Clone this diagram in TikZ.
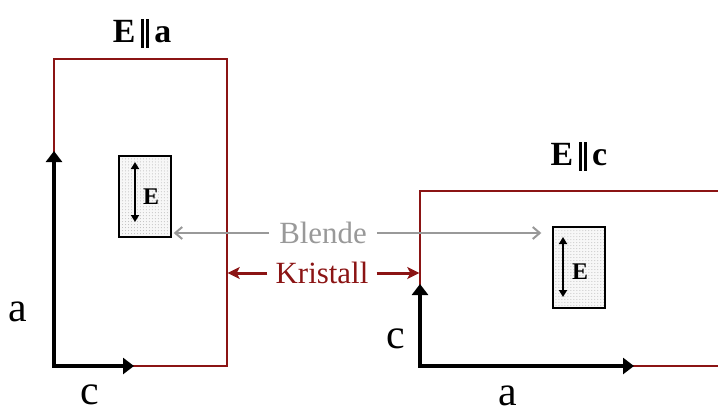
\documentclass[tikz,border=0pt]{standalone}
\usepackage{fontspec}
\setmainfont{Liberation Serif}
\usetikzlibrary{positioning, arrows.meta, patterns}
\definecolor{crystalred}{HTML}{8B1414}
\definecolor{blendegray}{HTML}{999999}
\newcommand{\parbars}{\rule[-5bp]{2.6bp}{29bp}\hspace{2.4bp}\rule[-5bp]{2.6bp}{29bp}}

\begin{document}
\begin{tikzpicture}[x=1bp, y=-1bp,
    crystal/.style={draw=crystalred, line width=1.4bp, inner sep=0pt},
    axis/.style={line width=3.6bp, line join=miter, {Triangle[length=11bp, width=16bp]}-{Triangle[length=11bp, width=16bp]}},
    slit/.style={draw=black, line width=1.4bp, preaction={fill=gray!6}, pattern=dots, pattern color=gray!55, minimum width=52bp, minimum height=81bp, inner sep=0pt},
    efield/.style={line width=2bp, {Triangle[length=7bp, width=8bp]}-{Triangle[length=7bp, width=8bp]}},
    axislabel/.style={font=\fontsize{42}{42}\selectfont, inner sep=0pt},
    titletext/.style={font=\fontsize{34}{34}\selectfont\bfseries, inner sep=0pt},
    etext/.style={font=\fontsize{24}{24}\selectfont\bfseries, inner sep=0pt},
    blendearrow/.style={draw=blendegray, line width=2bp, -{Straight Barb[length=7bp, width=12bp]}},
    kristallarrow/.style={draw=crystalred, line width=3bp, -{Stealth[length=12bp, width=12bp, inset=3bp]}}]
    \useasboundingbox (0,0) rectangle (718,410);

    % Crystals
    \node[crystal, minimum width=173bp, minimum height=307bp] (crysA) at (140.5,212.5) {};
    \node[crystal, minimum width=340bp, minimum height=175bp] (crysC) at (590,278.5) {};
    \node[titletext] (titleA) at (142,33) {E\,\parbars\,a};
    \node[titletext] (titleC) at (579,156) {E\,\parbars\,c};

    % Axes
    \coordinate (oA) at (54,366); \coordinate (aA) at (54,151); \coordinate (cA) at (134,366);
    \coordinate (oC) at (420,366); \coordinate (cC) at (420,284); \coordinate (aC) at (634,366);
    \draw[axis] (aA) -- (oA) -- (cA);
    \draw[axis] (cC) -- (oC) -- (aC);
    \node[axislabel] (labelaA) at (18,312) {a};
    \node[axislabel] (labelcA) at (90,395) {c};
    \node[axislabel] (labelcC) at (396,339) {c};
    \node[axislabel] (labelaC) at (508,396) {a};

    % Slits with field direction
    \node[slit] (slitA) at (145,196.5) {};
    \node[slit] (slitC) at (579,267.5) {};
    \coordinate (eAtop) at (135,162); \coordinate (eAbot) at (135,222);
    \coordinate (eCtop) at (563,237); \coordinate (eCbot) at (563,297);
    \draw[efield] (eAtop) -- (eAbot);
    \draw[efield] (eCtop) -- (eCbot);
    \node[etext] (eA) at (151,197) {E};
    \node[etext] (eC) at (580,272) {E};

    % Labels
    \node[text=blendegray, font=\fontsize{31}{31}\selectfont, inner xsep=10bp] (blende) at (323,233) {Blende};
    \node[text=crystalred, font=\fontsize{31}{31}\selectfont, inner xsep=8bp] (kristall) at (322,273) {Kristall};
    \draw[blendearrow, shorten >=2bp] (blende.west) -- (blende.west -| slitA.east);
    \draw[blendearrow, shorten >=11bp] (blende.east) -- (blende.east -| slitC.west);
    \draw[kristallarrow] (kristall.west) -- (kristall.west -| crysA.east);
    \draw[kristallarrow] (kristall.east) -- (kristall.east -| crysC.west);
\end{tikzpicture}
\end{document}
